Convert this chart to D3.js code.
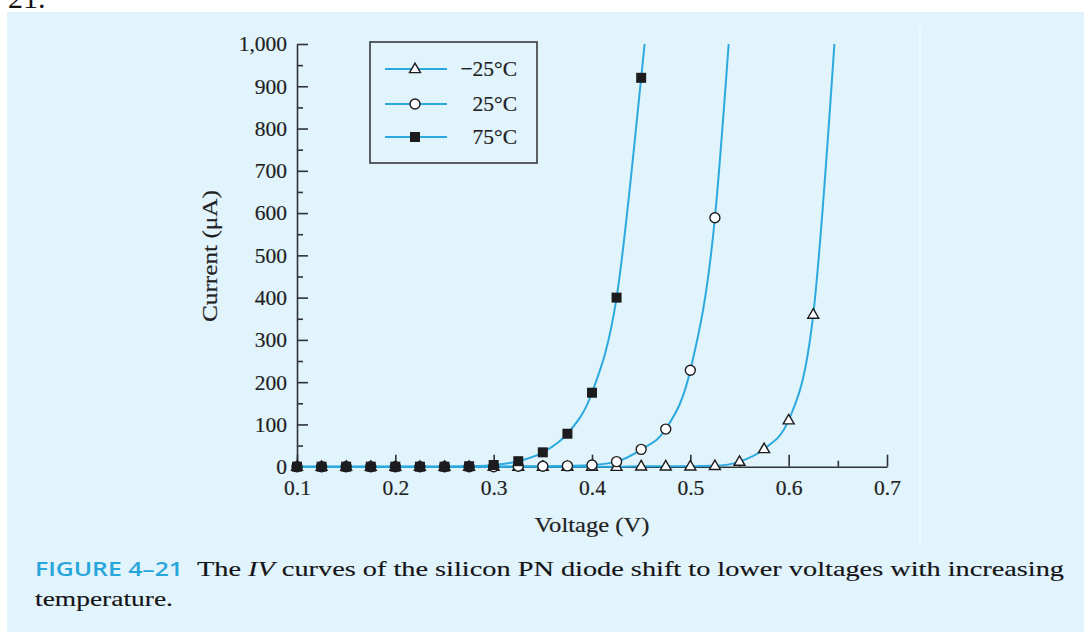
<!DOCTYPE html>
<html><head><meta charset="utf-8">
<script src="https://cdn.jsdelivr.net/npm/d3@7"></script>
<style>html,body{margin:0;padding:0;background:#fff;} svg{display:block;}</style>
</head><body>
<svg id="c" width="1084" height="632"></svg>
<script>
// ---------- data ----------
const seriesNames = ["\u221225\u00B0C", "25\u00B0C", "75\u00B0C"];
const seriesShapes = ["triangle", "circle", "square"];

const voltsM25 = [0.1,0.125,0.15,0.175,0.2,0.225,0.25,0.275,0.3,0.325,0.35,0.375,0.4,0.425,0.45,0.475,0.5,0.525,0.55,0.575,0.6,0.625];
const currentM25 = [0,0,0,0,0,0,0,0,0,0,0,0,0,0,1,1,1,2,12,42,110,360];

const volts25 = [0.1,0.125,0.15,0.175,0.2,0.225,0.25,0.275,0.3,0.325,0.35,0.375,0.4,0.425,0.45,0.475,0.5,0.525];
const current25 = [0,0,0,0,0,0,0,0,0,1,1,2,4,12,41,89,228,589];

const volts75 = [0.1,0.125,0.15,0.175,0.2,0.225,0.25,0.275,0.3,0.325,0.35,0.375,0.4,0.425,0.45];
const current75 = [0,0,0,0,0,0,0,1,4,13,34,78,175,400,920];

// where each fitted curve leaves the top of the plot
const curveEndVolts = [0.6465, 0.539, 0.4535];
const curveEndCurrent = [1000, 1000, 1000];

const xTicks = [0.1,0.2,0.3,0.4,0.5,0.6,0.7];
const xMinorTicks = [0.15,0.25,0.35,0.45,0.55,0.65];
const yTicks = [0,100,200,300,400,500,600,700,800,900,1000];
const yMinorTicks = [50,150,250,350,450,550,650,750,850,950];

const xTitle = "Voltage (V)";
const yTitle = "Current (\u03BCA)";
const captionLabel = "FIGURE 4\u201321";
const captionLine1 = ["The ", "IV", " curves of the silicon PN diode shift to lower voltages with increasing"];
const captionLine2 = "temperature.";

// ---------- drawing ----------
const svg = d3.select("#c");
const serif = "'Liberation Serif', 'Times New Roman', serif";
const axisCol = "#2f3236";
const lineCol = "#2caadf";
const markCol = "#1c1c1e";
const textCol = "#1f1f24";

// background
svg.append("rect").attr("x", 0).attr("y", 0).attr("width", 1084).attr("height", 632).attr("fill", "#ffffff");
svg.append("rect").attr("x", 7).attr("y", 12).attr("width", 1077).attr("height", 620).attr("fill", "#e1f3fb");
svg.append("line").attr("x1", 920).attr("x2", 920).attr("y1", 25).attr("y2", 545)
  .attr("stroke", "#f4fbfe").attr("stroke-width", 1.5).attr("opacity", 0.8);
svg.append("text").attr("x", 8).attr("y", 8).attr("font-family", serif).attr("font-size", 30)
  .attr("fill", "#111").text("21.");

const x = d3.scaleLinear().domain([0.1, 0.7]).range([297, 887]);
const y = d3.scaleLinear().domain([0, 1000]).range([466.7, 44]);

// axes
const gx = svg.append("g").attr("transform", `translate(0,${y(0)})`)
  .call(d3.axisBottom(x).tickValues(xTicks).tickSizeInner(-12).tickSizeOuter(0).tickPadding(13)
    .tickFormat(d3.format(".1f")));
const gxm = svg.append("g").attr("transform", `translate(0,${y(0)})`)
  .call(d3.axisBottom(x).tickValues(xMinorTicks).tickSize(-6).tickFormat(""));
gxm.select(".domain").remove();
const gy = svg.append("g").attr("transform", `translate(${x(0.1)},0)`)
  .call(d3.axisLeft(y).tickValues(yTicks).tickSizeInner(-11).tickSizeOuter(0).tickPadding(10)
    .tickFormat(d3.format(",")));
const gym = svg.append("g").attr("transform", `translate(${x(0.1)},0)`)
  .call(d3.axisLeft(y).tickValues(yMinorTicks).tickSize(-6).tickFormat(""));
gym.select(".domain").remove();
[gx, gxm, gy, gym].forEach(g => {
  g.selectAll("path,line").attr("stroke", axisCol).attr("stroke-width", 1.6);
  g.selectAll("text").attr("font-family", serif).attr("font-size", 21.5).attr("fill", textCol)
    .attr("stroke", textCol).attr("stroke-width", 0.2);
});

// titles
svg.append("text").attr("x", 592).attr("y", 532).attr("text-anchor", "middle")
  .attr("font-family", serif).attr("font-size", 22).attr("fill", textCol)
  .attr("stroke", textCol).attr("stroke-width", 0.2)
  .attr("textLength", 115).attr("lengthAdjust", "spacingAndGlyphs").text(xTitle);
svg.append("text").attr("transform", "translate(217,256) rotate(-90)").attr("text-anchor", "middle")
  .attr("font-family", serif).attr("font-size", 22).attr("fill", textCol)
  .attr("stroke", textCol).attr("stroke-width", 0.2)
  .attr("textLength", 132).attr("lengthAdjust", "spacingAndGlyphs").text(yTitle);

// series
const series = [
  {v: voltsM25, c: currentM25},
  {v: volts25, c: current25},
  {v: volts75, c: current75}
].map((s, i) => ({
  name: seriesNames[i], shape: seriesShapes[i],
  pts: s.v.map((v, j) => ({v, c: s.c[j]})),
  curve: s.v.map((v, j) => ({v, c: s.c[j]})).concat([{v: curveEndVolts[i], c: curveEndCurrent[i]}])
}));

const line = d3.line().x(d => x(d.v)).y(d => y(d.c)).curve(d3.curveMonotoneX);
series.forEach(s => {
  svg.append("path").attr("d", line(s.curve)).attr("fill", "none")
    .attr("stroke", lineCol).attr("stroke-width", 2);
});

function drawMark(g, shape, cx, cy) {
  if (shape === "triangle") {
    g.append("path").attr("d", d3.symbol().type(d3.symbolTriangle).size(52)())
      .attr("transform", `translate(${cx},${cy + 0.5})`)
      .attr("fill", "#fff").attr("stroke", markCol).attr("stroke-width", 1.4);
  } else if (shape === "circle") {
    g.append("circle").attr("cx", cx).attr("cy", cy).attr("r", 5)
      .attr("fill", "#fff").attr("stroke", markCol).attr("stroke-width", 1.4);
  } else {
    g.append("rect").attr("x", cx - 5).attr("y", cy - 5).attr("width", 10).attr("height", 10)
      .attr("fill", markCol);
  }
}
const gm = svg.append("g");
series.forEach(s => s.pts.forEach(p => drawMark(gm, s.shape, x(p.v), y(p.c))));

// legend
const lg = svg.append("g");
lg.append("rect").attr("x", 370).attr("y", 42).attr("width", 167).attr("height", 121)
  .attr("fill", "none").attr("stroke", "#3a3a3e").attr("stroke-width", 1.6);
const rowY = [69, 104, 137];
series.forEach((s, i) => {
  lg.append("line").attr("x1", 385).attr("x2", 447).attr("y1", rowY[i]).attr("y2", rowY[i])
    .attr("stroke", lineCol).attr("stroke-width", 2);
  drawMark(lg, s.shape, 415, rowY[i]);
  lg.append("text").attr("x", 517).attr("y", rowY[i] + 7).attr("text-anchor", "end")
    .attr("font-family", serif).attr("font-size", 21.5).attr("fill", textCol)
    .attr("stroke", textCol).attr("stroke-width", 0.2).text(s.name);
});

// caption
svg.append("text").attr("x", 35).attr("y", 576)
  .attr("font-family", "'Open Sans', 'Noto Sans', sans-serif").attr("font-weight", 600)
  .attr("font-size", 19).attr("fill", "#27a6dc")
  .attr("textLength", 148).attr("lengthAdjust", "spacingAndGlyphs").text(captionLabel);
const c1 = svg.append("text").attr("x", 197).attr("y", 576)
  .attr("font-family", serif).attr("font-size", 22).attr("fill", "#141418")
  .attr("stroke", "#141418").attr("stroke-width", 0.15);
captionLine1.forEach((t, i) => c1.append("tspan").attr("font-style", i === 1 ? "italic" : null).text(t));
c1.attr("textLength", 867).attr("lengthAdjust", "spacingAndGlyphs");
svg.append("text").attr("x", 35).attr("y", 606)
  .attr("font-family", serif).attr("font-size", 22).attr("fill", "#141418")
  .attr("stroke", "#141418").attr("stroke-width", 0.15)
  .attr("textLength", 138).attr("lengthAdjust", "spacingAndGlyphs").text(captionLine2);
</script>
</body></html>
